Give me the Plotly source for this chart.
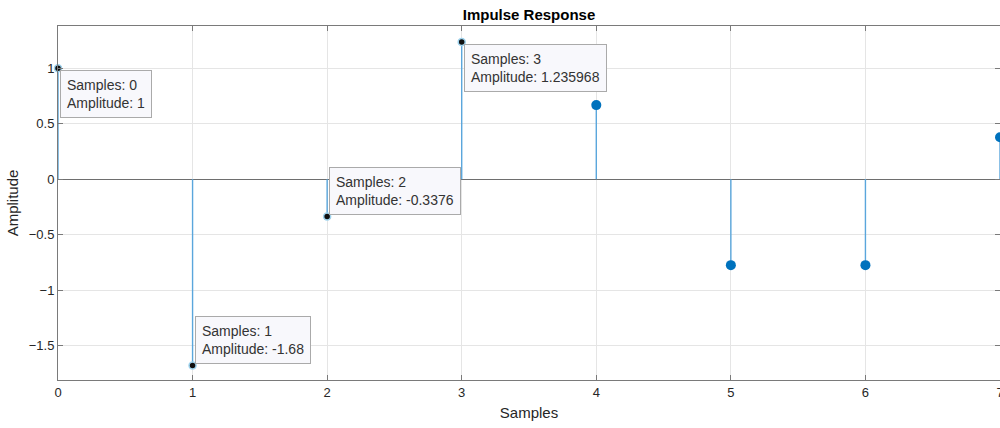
import plotly.graph_objects as go

samples = [0, 1, 2, 3, 4, 5, 6, 7]
amplitude = [1.0, -1.68, -0.3376, 1.235968, 0.667, -0.775, -0.775, 0.378]
tip_idx = [0, 1, 2, 3]
tip_text = ["Samples: 0<br>Amplitude: 1",
            "Samples: 1<br>Amplitude: -1.68",
            "Samples: 2<br>Amplitude: -0.3376",
            "Samples: 3<br>Amplitude: 1.235968"]
tip_anchor = ["top", "bottom", "bottom", "top"]
xticks = [0, 1, 2, 3, 4, 5, 6, 7]
yticks = [-1.5, -1, -0.5, 0, 0.5, 1]

blue = "#0072BD"
fig = go.Figure()

sx, sy = [], []
for x, y in zip(samples, amplitude):
    sx += [x, x, None]
    sy += [0, y, None]
fig.add_trace(go.Scatter(x=sx, y=sy, mode="lines",
                         line=dict(color="#5aa6dc", width=1.4), hoverinfo="skip",
                         showlegend=False))
rest = [i for i in range(len(samples)) if i not in tip_idx]
fig.add_trace(go.Scatter(x=[samples[i] for i in rest], y=[amplitude[i] for i in rest],
                         mode="markers", marker=dict(color=blue, size=10),
                         showlegend=False, cliponaxis=False))
fig.add_trace(go.Scatter(x=[samples[i] for i in tip_idx], y=[amplitude[i] for i in tip_idx],
                         mode="markers",
                         marker=dict(color="#111111", size=7, line=dict(color="#9fd3ee", width=1.5)),
                         showlegend=False, cliponaxis=False))

for i, t, anc in zip(tip_idx, tip_text, tip_anchor):
    fig.add_annotation(x=samples[i], y=amplitude[i], xref="x", yref="y", text=t,
                       showarrow=False, xanchor="left", yanchor=anc, align="left",
                       xshift=2, yshift=-2 if anc == "top" else 2,
                       font=dict(family="Liberation Sans, Arial", size=14, color="#333333"),
                       bgcolor="#f8f8fc", bordercolor="#aaaaaa", borderwidth=1, borderpad=6)

fig.update_layout(
    width=1000, height=428,
    margin=dict(l=58, r=0, t=26, b=48, autoexpand=False),
    plot_bgcolor="white", paper_bgcolor="white",
    font=dict(family="Liberation Sans, Arial", size=13, color="#262626"),
    title=dict(text="<b>Impulse Response</b>", x=529 / 1000, xanchor="center",
               y=1 - 15 / 428, yanchor="middle", font=dict(size=15, color="#000000")),
)
fig.update_xaxes(range=[0, 7.0], tickvals=xticks, showgrid=True, gridcolor="#e5e5e5",
                 showline=True, linecolor="#7a7a7a", linewidth=1, mirror="ticks",
                 ticks="inside", ticklen=5, tickcolor="#7a7a7a", zeroline=False,
                 ticklabeloverflow="allow", automargin=False,
                 title=dict(text="Samples", font=dict(size=15), standoff=8))
fig.update_yaxes(range=[-1.81, 1.38], tickvals=yticks, showgrid=True, gridcolor="#e5e5e5",
                 showline=True, linecolor="#7a7a7a", linewidth=1, mirror="ticks",
                 ticks="inside", ticklen=5, tickcolor="#7a7a7a",
                 zeroline=True, zerolinecolor="#6e6e6e", zerolinewidth=1,
                 automargin=False,
                 title=dict(text="Amplitude", font=dict(size=15), standoff=6))

fig.write_html("out.html")
